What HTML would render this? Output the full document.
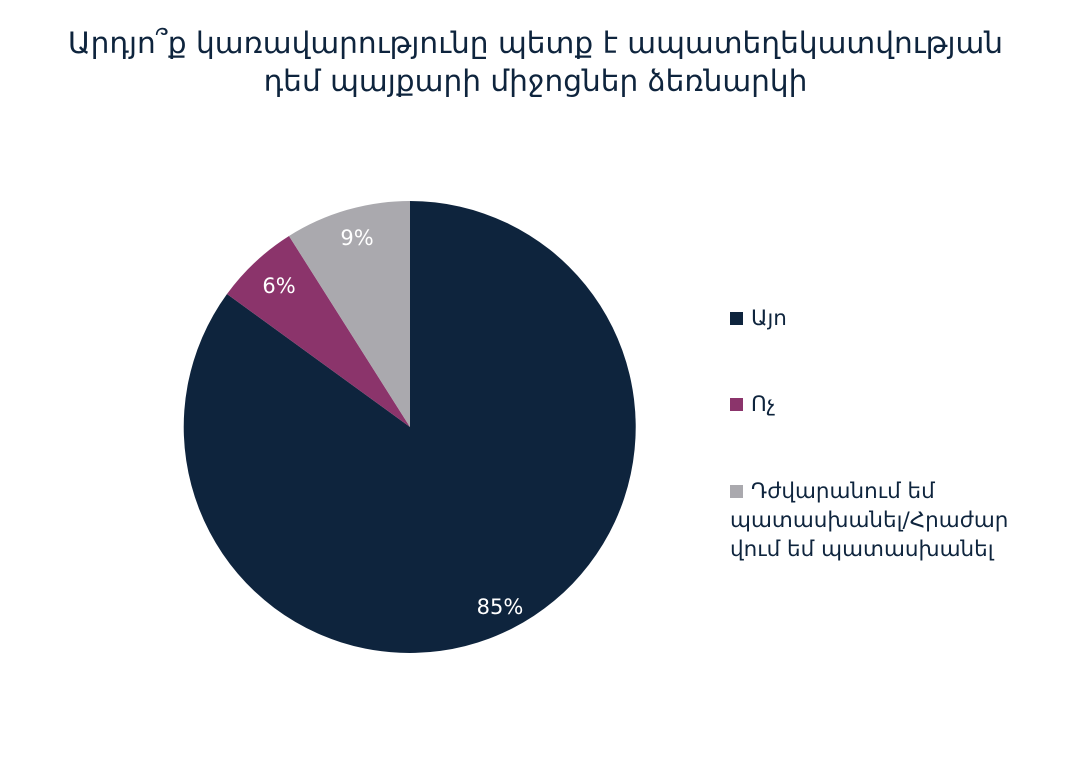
<!DOCTYPE html>
<html><head><meta charset="utf-8"><style>
html,body{margin:0;padding:0;background:#fff;}
body{width:1071px;height:784px;position:relative;overflow:hidden;font-family:"DejaVu Sans","Liberation Sans",sans-serif;}
.title{position:absolute;left:0;width:1071px;top:24px;text-align:center;font-size:29.6px;line-height:38px;color:#0e243d;}
.leg{position:absolute;left:730px;font-size:21.5px;color:#0e243d;line-height:29px;}
.sw{display:inline-block;width:13px;height:13px;margin-right:8px;}
</style></head><body>
<div class="title">Արդյո՞ք կառավարությունը պետք է ապատեղեկատվության<br>դեմ պայքարի միջոցներ ձեռնարկի</div>
<svg width="1071" height="784" style="position:absolute;left:0;top:0">
<path d="M410,427 L410,201 A226,226 0 1,1 227,294 Z" fill="#0e243d"/>
<path d="M410,427 L227,294 A226,226 0 0,1 289,236 Z" fill="#8b346b"/>
<path d="M410,427 L289,236 A226,226 0 0,1 410,201 Z" fill="#aaa9ae"/>
<g font-family="DejaVu Sans, sans-serif" font-size="21" fill="#fff" text-anchor="middle">
<text x="357" y="245">9%</text>
<text x="279" y="293">6%</text>
<text x="500" y="614">85%</text>
</g>
</svg>
<div class="leg" style="top:304px"><span class="sw" style="background:#0e243d"></span>Այո</div>
<div class="leg" style="top:390px"><span class="sw" style="background:#8b346b"></span>Ոչ</div>
<div class="leg" style="top:477px"><span class="sw" style="background:#aaa9ae"></span>Դժվարանում եմ<br>պատասխանել/Հրաժար<br>վում եմ պատասխանել</div>
</body></html>
